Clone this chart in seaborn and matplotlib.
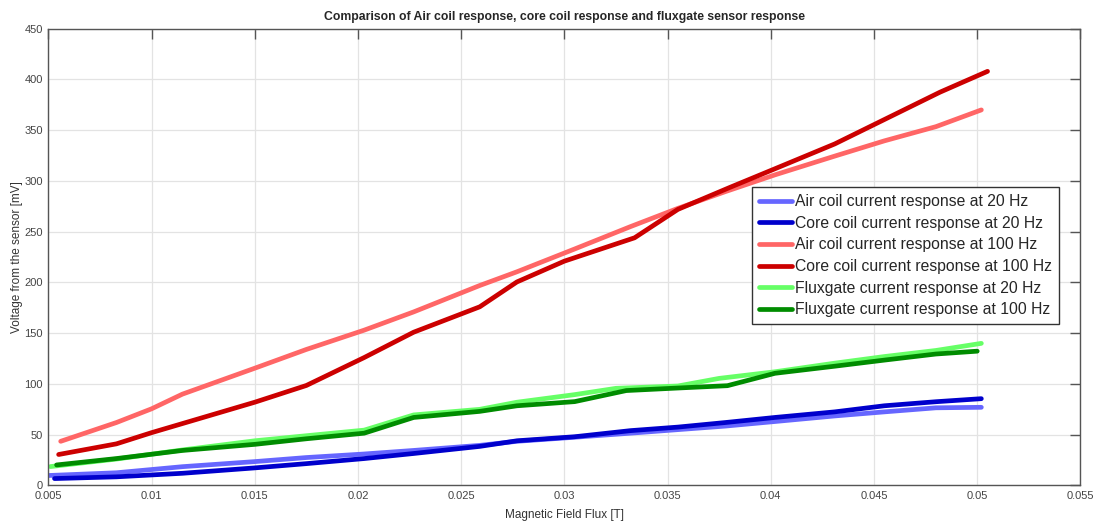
import numpy as np
import pandas as pd
import matplotlib
matplotlib.use("Agg")
from matplotlib import pyplot as plt
import seaborn as sns

# Series
air20_x = [0.0050, 0.0083, 0.0115, 0.0150, 0.0175, 0.0203, 0.0227, 0.0259, 0.0277, 0.0305,
           0.0332, 0.0355, 0.0378, 0.0402, 0.0431, 0.0455, 0.0480, 0.0502]
air20_y = [9.8, 12.5, 18.5, 23.5, 27.5, 31.0, 34.5, 39.5, 43.5, 47.5,
           51.5, 55.0, 58.5, 63.0, 68.5, 72.5, 76.5, 77.0]

core20_x = [0.0053, 0.0083, 0.0115, 0.0150, 0.0175, 0.0203, 0.0227, 0.0259, 0.0277, 0.0305,
            0.0332, 0.0355, 0.0378, 0.0402, 0.0431, 0.0455, 0.0480, 0.0502]
core20_y = [6.8, 8.5, 12.0, 17.3, 21.5, 26.5, 31.5, 38.5, 44.0, 48.0,
            54.0, 57.5, 62.0, 67.0, 72.5, 78.5, 82.5, 85.5]

air100_x = [0.0056, 0.0083, 0.0100, 0.0115, 0.0150, 0.0175, 0.0203, 0.0227, 0.0259, 0.0277,
            0.0305, 0.0332, 0.0355, 0.0378, 0.0402, 0.0431, 0.0455, 0.0480, 0.0502]
air100_y = [43.5, 62.0, 75.5, 90.0, 115.5, 134.0, 153.0, 171.0, 197.0, 210.5,
            233.0, 255.0, 273.0, 289.5, 306.0, 324.5, 339.5, 353.5, 370.0]

core100_x = [0.0055, 0.0083, 0.0100, 0.0115, 0.0150, 0.0175, 0.0203, 0.0227, 0.0259, 0.0277,
             0.0300, 0.0334, 0.0355, 0.0380, 0.0402, 0.0431, 0.0455, 0.0482, 0.0505]
core100_y = [30.5, 41.0, 52.0, 61.0, 82.0, 98.5, 126.0, 151.0, 176.0, 200.5,
             221.0, 244.0, 272.0, 293.5, 312.0, 336.5, 360.5, 387.5, 408.0]

fg20_x = [0.0051, 0.0083, 0.0115, 0.0150, 0.0175, 0.0203, 0.0227, 0.0259, 0.0277, 0.0305,
          0.0325, 0.0355, 0.0375, 0.0402, 0.0431, 0.0455, 0.0480, 0.0502]
fg20_y = [18.6, 26.0, 35.0, 44.0, 49.0, 54.5, 69.5, 75.0, 82.0, 89.5,
          95.7, 98.0, 105.5, 112.0, 120.5, 127.0, 133.0, 140.0]

fg100_x = [0.0054, 0.0083, 0.0115, 0.0150, 0.0175, 0.0203, 0.0227, 0.0259, 0.0277, 0.0305,
           0.0330, 0.0355, 0.0379, 0.0402, 0.0431, 0.0455, 0.0480, 0.0500]
fg100_y = [20.2, 26.5, 34.5, 40.5, 46.0, 51.5, 67.0, 73.0, 78.5, 82.6,
           93.5, 96.0, 98.3, 110.5, 117.5, 123.5, 129.5, 132.3]

labels = ["Air coil current response at 20 Hz",
          "Core coil current response at 20 Hz",
          "Air coil current response at 100 Hz",
          "Core coil current response at 100 Hz",
          "Fluxgate current response at 20 Hz",
          "Fluxgate current response at 100 Hz"]
colors = ["#6666ff", "#0000cc", "#ff6666", "#cc0000", "#66ff66", "#008c00"]

series = [(air20_x, air20_y), (core20_x, core20_y), (air100_x, air100_y),
          (core100_x, core100_y), (fg20_x, fg20_y), (fg100_x, fg100_y)]

df = pd.concat([pd.DataFrame({"flux": xs, "voltage": ys, "series": lab})
                for (xs, ys), lab in zip(series, labels)], ignore_index=True)

sns.set_style("whitegrid")
plt.rcParams['font.family'] = ['Liberation Sans', 'DejaVu Sans']

fig = plt.figure(figsize=(10.98, 5.22), dpi=100)
ax = fig.add_axes([0.044, 0.070, 0.940, 0.875])

sns.lineplot(data=df, x="flux", y="voltage", hue="series", hue_order=labels,
             palette=dict(zip(labels, colors)), estimator=None, sort=False,
             linewidth=3.4, ax=ax)

ax.set_xlim(0.005, 0.055)
ax.set_ylim(0, 450)
ax.set_xticks(np.arange(0.005, 0.0551, 0.005))
ax.set_xticklabels(["0.005", "0.01", "0.015", "0.02", "0.025", "0.03",
                    "0.035", "0.04", "0.045", "0.05", "0.055"])
ax.set_yticks(np.arange(0, 451, 50))

ax.grid(True, color="#e3e3e3", linewidth=0.9)
for s in ax.spines.values():
    s.set_color("#555555")
    s.set_linewidth(1.0)
ax.tick_params(direction="in", top=True, right=True, length=7, width=1,
               color="#555555", labelsize=8, labelcolor="#444444", pad=4)

ax.set_xlabel("Magnetic Field Flux [T]", fontsize=8.5, color="#333333", labelpad=6)
ax.set_ylabel("Voltage from the sensor [mV]", fontsize=8.5, color="#333333", labelpad=1)
ax.set_title("Comparison of Air coil response, core coil response and fluxgate sensor response",
             fontsize=8.8, fontweight="bold", pad=6)

leg = ax.legend(loc="upper right", bbox_to_anchor=(0.979, 0.653), fontsize=11.3,
                frameon=True, fancybox=False, framealpha=1, edgecolor="#333333",
                handlelength=2.1, handletextpad=0.15, borderpad=0.45, labelspacing=0.42,
                borderaxespad=0)
leg.get_frame().set_linewidth(1.0)

fig.savefig("out.png", dpi=100)
